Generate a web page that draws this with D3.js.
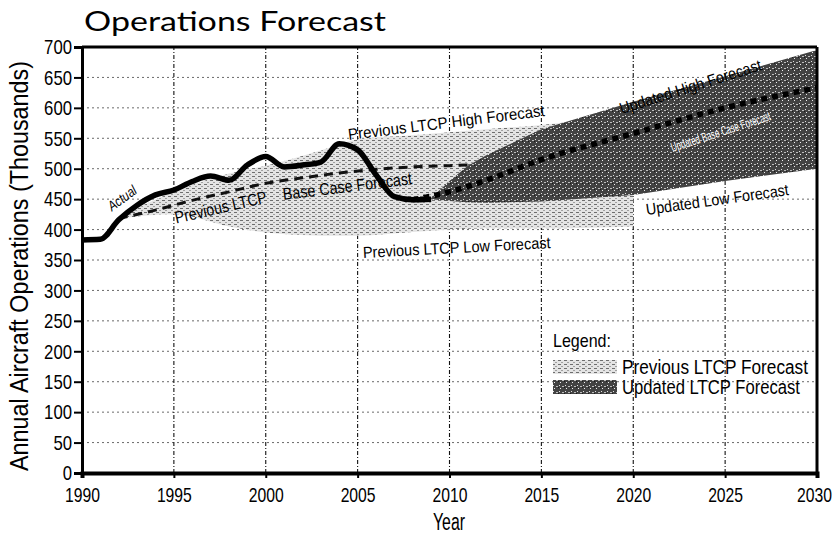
<!DOCTYPE html>
<html><head><meta charset="utf-8">
<script src="https://cdn.jsdelivr.net/npm/d3@7"></script>
<style>
html,body{margin:0;padding:0;background:#fff;}
svg{display:block;}
</style></head>
<body>
<script>
// ---------- data ----------
const actualYears = [1990,1991,1992,1993,1994,1995,1996,1997,1998,1999,2000,2001,2002,2003,2004,2005,2006,2007,2008,2009];
const actualOps   = [383, 384, 416, 440, 457, 465, 479, 488, 481, 506, 520, 503, 506, 511, 541, 531, 490, 454, 449, 450];

const prevBaseYears = [1992,1994,1996,1998,2000,2002,2004,2006,2008,2010,2012,2015];
const prevBaseOps   = [418, 432, 448, 462, 476, 485, 493, 499, 503, 505, 507, 510];

const prevBandYears = [1992,1995,1998,2000,2003,2005,2008,2010,2012,2015,2020];
const prevHighOps   = [420, 462, 492, 505, 530, 548, 555, 560, 565, 572, 590];
const prevLowOps    = [418, 425, 405, 395, 390, 390, 396, 400, 402, 402, 405];

const updYears   = [2009,2010,2011,2012,2015,2020,2025,2030];
const updHighOps = [452, 480, 505, 522, 565, 610, 652, 695];
const updLowOps  = [450, 447, 445, 444, 446, 457, 480, 500];

const updBaseYears = [2008,2010,2012,2015,2020,2025,2030];
const updBaseOps   = [449, 462, 481, 515, 558, 600, 633];

const xTicks = [1990,1995,2000,2005,2010,2015,2020,2025,2030];
const yTicks = [0,50,100,150,200,250,300,350,400,450,500,550,600,650,700];

const titleText = "Operations Forecast";
const xTitle = "Year";
const yTitle = "Annual Aircraft Operations (Thousands)";
const legendTitle = "Legend:";
const legendItems = ["Previous LTCP Forecast","Updated LTCP Forecast"];

// ---------- setup ----------
const W = 838, H = 536;
const narrow = "'Liberation Sans Narrow','Liberation Sans',Arial,sans-serif";
const svg = d3.select("body").append("svg").attr("width", W).attr("height", H);

const x = d3.scaleLinear().domain([1990,2030]).range([82,817]);
const y = d3.scaleLinear().domain([0,700]).range([473,47]);

// patterns
const defs = svg.append("defs");
const pl = defs.append("pattern").attr("id","lightPat").attr("patternUnits","userSpaceOnUse")
  .attr("width",6).attr("height",4);
pl.append("rect").attr("width",6).attr("height",4).attr("fill","#e4e4e4");
pl.append("rect").attr("x",0).attr("y",0).attr("width",3).attr("height",1).attr("fill","#6e6e6e");
pl.append("rect").attr("x",3).attr("y",2).attr("width",2).attr("height",1).attr("fill","#a0a0a0");

const pd = defs.append("pattern").attr("id","darkPat").attr("patternUnits","userSpaceOnUse")
  .attr("width",6).attr("height",6);
pd.append("rect").attr("width",6).attr("height",6).attr("fill","#434343");
pd.append("rect").attr("x",1).attr("y",1).attr("width",1).attr("height",1).attr("fill","#e0e0e0");
pd.append("rect").attr("x",4).attr("y",2).attr("width",2).attr("height",1).attr("fill","#bdbdbd");
pd.append("rect").attr("x",2).attr("y",4).attr("width",1).attr("height",1).attr("fill","#f0f0f0");
pd.append("rect").attr("x",0).attr("y",3).attr("width",1).attr("height",1).attr("fill","#1a1a1a");

// gridlines
const grid = svg.append("g");
grid.selectAll("line.h").data(yTicks.filter(d => d>0 && d<700)).join("line")
  .attr("x1", x(1990)).attr("x2", x(2030))
  .attr("y1", d => y(d)).attr("y2", d => y(d))
  .attr("stroke","#444").attr("stroke-width",0.8).attr("stroke-dasharray","2,3");
grid.selectAll("line.v").data(xTicks.filter(d => d>1990 && d<2030)).join("line")
  .attr("y1", y(0)).attr("y2", y(700))
  .attr("x1", d => x(d)).attr("x2", d => x(d))
  .attr("stroke","#111").attr("stroke-width",1.1).attr("stroke-dasharray","4,2,1,2");

// previous LTCP band
const prevBand = prevBandYears.map((yr,i) => ({yr, lo: prevLowOps[i], hi: prevHighOps[i]}));
svg.append("path").datum(prevBand)
  .attr("d", d3.area().x(d => x(d.yr)).y0(d => y(d.lo)).y1(d => y(d.hi)).curve(d3.curveMonotoneX))
  .attr("fill","url(#lightPat)");

// previous base case dashed
svg.append("path").datum(prevBaseYears.map((yr,i)=>({yr, v: prevBaseOps[i]})))
  .attr("d", d3.line().x(d => x(d.yr)).y(d => y(d.v)).curve(d3.curveMonotoneX))
  .attr("fill","none").attr("stroke","#111").attr("stroke-width",3).attr("stroke-dasharray","9,6");

// updated band
const updBand = updYears.map((yr,i) => ({yr, lo: updLowOps[i], hi: updHighOps[i]}));
svg.append("path").datum(updBand)
  .attr("d", d3.area().x(d => x(d.yr)).y0(d => y(d.lo)).y1(d => y(d.hi)).curve(d3.curveLinear))
  .attr("fill","url(#darkPat)");

// actual
svg.append("path").datum(actualYears.map((yr,i)=>({yr, v: actualOps[i]})))
  .attr("d", d3.line().x(d => x(d.yr)).y(d => y(d.v)).curve(d3.curveMonotoneX))
  .attr("fill","none").attr("stroke","#000").attr("stroke-width",5.5).attr("stroke-linejoin","round");

// updated base dotted
svg.append("path").datum(updBaseYears.map((yr,i)=>({yr, v: updBaseOps[i]})))
  .attr("d", d3.line().x(d => x(d.yr)).y(d => y(d.v)).curve(d3.curveMonotoneX))
  .attr("fill","none").attr("stroke","#000").attr("stroke-width",5.5).attr("stroke-dasharray","6,5");

// in-chart labels
function label(txt, cx, cy, ang, size, len, color, style){
  const t = svg.append("text")
    .attr("transform", `translate(${cx},${cy}) rotate(${ang})`)
    .attr("text-anchor","middle")
    .attr("font-family", narrow).attr("font-size", size)
    .attr("fill", color || "#000")
    .text(txt);
  if (len) t.attr("textLength", len).attr("lengthAdjust","spacingAndGlyphs");
  if (style) t.attr("font-style", style);
  return t;
}
label("Actual", 125, 202, -36, 14, 32, "#000", "italic");
label("Previous LTCP", 222, 213, -13, 17, 94);
label("Base Case Forecast", 348, 192, -7, 17, 130);
label("Previous LTCP  High Forecast", 447, 128, -7, 16, 198);
label("Previous LTCP Low Forecast", 457, 253, -3, 16, 188);
label("Updated High Forecast", 692, 92, -17.5, 16, 148);
label("Updated Low Forecast", 718, 205, -8, 16, 144);
label("Updated Base Case Forecast", 722, 136, -18, 13, 104, "#fff");

// axes frame
svg.append("line").attr("x1",x(1990)).attr("x2",x(2030)).attr("y1",y(700)).attr("y2",y(700))
  .attr("stroke","#000").attr("stroke-width",3);
svg.append("line").attr("x1",x(2030)).attr("x2",x(2030)).attr("y1",y(700)).attr("y2",y(0))
  .attr("stroke","#000").attr("stroke-width",3);

const yAxis = svg.append("g").attr("transform",`translate(${x(1990)},0)`)
  .call(d3.axisLeft(y).tickValues(yTicks).tickSize(8).tickPadding(2));
yAxis.select(".domain").attr("stroke-width",3);
yAxis.selectAll(".tick line").attr("stroke-width",2);
yAxis.selectAll(".tick text").attr("font-family",narrow).attr("font-size",21).attr("fill","#000")
  .attr("textLength", d => String(d).length * 9.3).attr("lengthAdjust","spacingAndGlyphs");

const xAxis = svg.append("g").attr("transform",`translate(0,${y(0)})`)
  .call(d3.axisBottom(x).tickValues(xTicks).tickFormat(d3.format("d")).tickSize(5).tickPadding(9));
xAxis.select(".domain").attr("stroke-width",4);
xAxis.selectAll(".tick line").attr("stroke-width",2);
xAxis.selectAll(".tick text").attr("font-family",narrow).attr("font-size",21).attr("fill","#000")
  .attr("textLength", 35).attr("lengthAdjust","spacingAndGlyphs")
  .attr("dx", d => d === 2030 ? -3 : 0);

// titles
svg.append("text").attr("x",84).attr("y",31)
  .attr("font-family","Lato, 'Noto Sans', sans-serif").attr("font-size",26)
  .attr("textLength",302).attr("lengthAdjust","spacingAndGlyphs")
  .text(titleText);
svg.append("text").attr("x",449).attr("y",530).attr("text-anchor","middle")
  .attr("font-family",narrow).attr("font-size",23)
  .attr("textLength",32).attr("lengthAdjust","spacingAndGlyphs").text(xTitle);
svg.append("text").attr("transform","translate(28,266) rotate(-90)").attr("text-anchor","middle")
  .attr("font-family",narrow).attr("font-size",25)
  .attr("textLength",410).attr("lengthAdjust","spacingAndGlyphs").text(yTitle);

// legend
const lg = svg.append("g");
lg.append("text").attr("x",553).attr("y",347).attr("font-family",narrow).attr("font-size",19)
  .attr("textLength",58).attr("lengthAdjust","spacingAndGlyphs").text(legendTitle);
const fills = ["url(#lightPat)","url(#darkPat)"];
legendItems.forEach((t,i) => {
  lg.append("rect").attr("x",553).attr("y",360 + i*20).attr("width",64).attr("height",14).attr("fill",fills[i]);
  lg.append("text").attr("x",622).attr("y",374 + i*20).attr("font-family",narrow).attr("font-size",20)
    .attr("textLength", i===0 ? 186 : 178).attr("lengthAdjust","spacingAndGlyphs").text(t);
});
</script>
</body></html>
